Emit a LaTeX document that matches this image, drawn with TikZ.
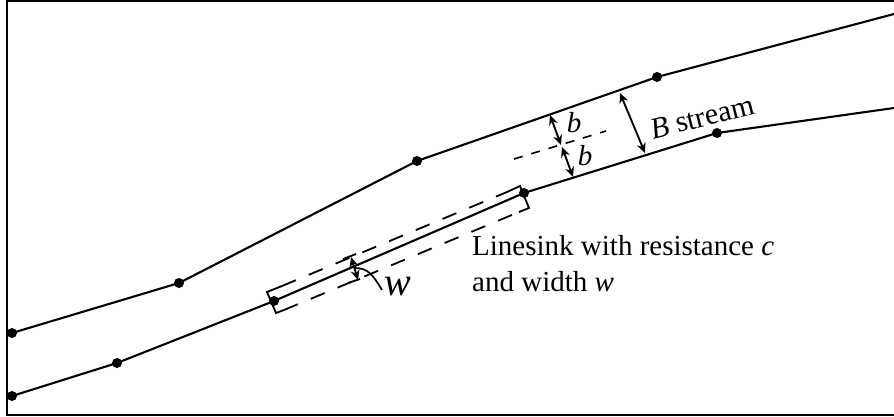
\documentclass[tikz,border=0pt]{standalone}
\usepackage{fontspec}
\setmainfont{Liberation Serif}
\usetikzlibrary{arrows.meta}
\tikzset{
  dotn/.style={circle,fill=black,inner sep=0pt,minimum size=10pt},
  stream/.style={line width=2.1pt},
  dimline/.style={line width=1.9pt,{Stealth[length=10pt,width=9pt]}-{Stealth[length=10pt,width=9pt]}},
  dash1/.style={line width=1.8pt,dash pattern=on 15pt off 14pt},
  dash2/.style={line width=1.6pt,dash pattern=on 9pt off 9pt},
  frameb/.style={line width=2pt},
  lab/.style={inner sep=0pt,font=\fontsize{29}{32}\selectfont},
}
\begin{document}
\begin{tikzpicture}[x=1pt,y=-1pt]
\useasboundingbox (0,0) rectangle (894,417);
\fill[white] (0,0) rectangle (894,417);
\draw[frameb] (7,0) -- (7,415) -- (894,415);
\draw[frameb] (7,0.8) -- (894,0.8);
% top bank
\node[dotn] (t1) at (12,333) {};
\node[dotn] (t2) at (179,283) {};
\node[dotn] (t3) at (417,161) {};
\node[dotn] (t4) at (657,77) {};
\coordinate (t5) at (894,14);
\draw[stream] (t1.center) -- (t2.center) -- (t3.center) -- (t4.center) -- (t5);
% bottom bank
\node[dotn] (b1) at (12,396) {};
\node[dotn] (b2) at (117,363) {};
\node[dotn] (b3) at (274,301) {};
\node[dotn] (b4) at (524,193) {};
\node[dotn] (b5) at (717,133) {};
\coordinate (b6) at (894,108);
\draw[stream] (b1.center) -- (b2.center) -- (b3.center) -- (b4.center) -- (b5.center) -- (b6);
% linesink box
\coordinate (lt) at (267,292); \coordinate (lb) at (276,313);
\coordinate (rt) at (520,186); \coordinate (rb) at (529,208);
\coordinate (ltb) at (282,286); \coordinate (lbb) at (284,310);
\coordinate (rtb) at (507,192); \coordinate (rbb) at (519,212);
\draw[line width=1.8pt,line join=miter] (ltb) -- (lt) -- (lb) -- (lbb);
\draw[line width=1.8pt,line join=miter] (rtb) -- (rt) -- (rb) -- (rbb);
\draw[dash1] (ltb) -- (rtb);
\draw[dash1] (lbb) -- (rbb);
% w dimension
\coordinate (wa) at (351,257); \coordinate (wm) at (355,268); \coordinate (wb) at (358,280);
\draw[line width=1.8pt] (343,259) -- (356,254);
\draw[line width=1.8pt] (348,283) -- (360,279);
\draw[dimline] (wa) -- (wb);
\coordinate (wl) at (382,290);
\draw[line width=1.7pt] (wm) .. controls (368,268) and (373,275) .. (wl);
\node[lab,font=\fontsize{40}{42}\selectfont\itshape] (w) at (398,287) {w};
% b dimensions
\coordinate (b1a) at (550,115); \coordinate (b1b) at (561,145);
\coordinate (b2a) at (562,147); \coordinate (b2b) at (573,177);
\draw[dimline] (b1a) -- (b1b);
\draw[dimline] (b2a) -- (b2b);
\coordinate (da) at (514,159); \coordinate (db) at (606,131);
\draw[dash2] (da) -- (db);
\node[lab,font=\fontsize{29}{32}\selectfont\itshape] (bA) at (574,123) {b};
\node[lab,font=\fontsize{29}{32}\selectfont\itshape] (bB) at (585,156) {b};
% B
\coordinate (Ba) at (620,93); \coordinate (Bb) at (645,153);
\draw[dimline] (Ba) -- (Bb);
\node[lab,rotate=14,font=\fontsize{30}{32}\selectfont] (Bs) at (702,117) {{\itshape B} stream};
% caption
\node[lab,anchor=base west] (c1) at (472,255) {Linesink with resistance {\itshape c}};
\node[lab,anchor=base west] (c2) at (472,291) {and width {\itshape w}};
\end{tikzpicture}
\end{document}
